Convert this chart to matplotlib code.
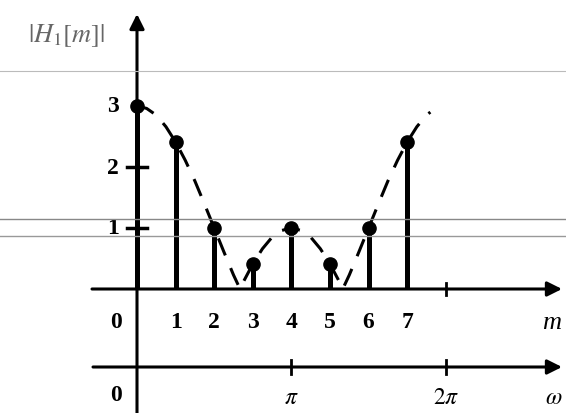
import matplotlib
matplotlib.use("Agg")
import matplotlib.pyplot as plt
from matplotlib.lines import Line2D

# stem values |H1[m]|
m_vals = [0, 1, 2, 3, 4, 5, 6, 7]
h_vals = [3, 2.41, 1, 0.41, 1, 0.41, 1, 2.41]

# dashed envelope
curve_m = [0, 0.25, 0.5, 0.75, 1, 1.25, 1.5, 1.75, 2, 2.25, 2.5, 2.67, 2.75, 3, 3.25,
           3.5, 3.75, 4, 4.25, 4.5, 4.75, 5, 5.25, 5.33, 5.5, 5.75, 6, 6.25, 6.5,
           6.75, 7, 7.25, 7.5, 7.6]
curve_h = [3, 2.96, 2.85, 2.66, 2.41, 2.11, 1.77, 1.39, 1, 0.61, 0.23, 0, 0.11, 0.41, 0.66,
           0.85, 0.96, 1, 0.96, 0.85, 0.66, 0.41, 0.11, 0, 0.23, 0.61, 1, 1.39, 1.77,
           2.11, 2.41, 2.66, 2.85, 2.90]

m_ticks = ["1", "2", "3", "4", "5", "6", "7"]
y_ticks = [1, 2, 3]
w_ticks = [(4, r"$\pi$"), (8, r"$2\pi$")]

plt.rcParams['font.family'] = ['Liberation Serif', 'DejaVu Serif']
plt.rcParams['mathtext.fontset'] = 'stix'

fig = plt.figure(figsize=(5.66, 4.14), dpi=100)
ax = fig.add_axes([0, 0, 1, 1])
# pixel -> data mapping: x = 137 + 38.6*m, y = 290 - 61*v
ax.set_xlim(-137 / 38.6, (566 - 137) / 38.6)
ax.set_ylim((290 - 414) / 61, 290 / 61)
ax.axis('off')

# scan lines
for yp, c, lw in [(72, '#bbbbbb', 0.8), (220, '#888888', 1.0), (237, '#999999', 1.0)]:
    fig.add_artist(Line2D([0, 1], [1 - yp / 414, 1 - yp / 414], color=c, lw=lw))

k = 'black'
w_axis_y = (290 - 368) / 61
arrow = dict(arrowstyle='-|>', lw=2.2, color=k, mutation_scale=22, shrinkA=0, shrinkB=0)
# m axis
ax.annotate('', xy=((562 - 137) / 38.6, 0), xytext=((92 - 137) / 38.6, 0), arrowprops=arrow)
# omega axis
ax.annotate('', xy=((562 - 137) / 38.6, w_axis_y), xytext=((93 - 137) / 38.6, w_axis_y),
            arrowprops=arrow)
# vertical axis
ax.annotate('', xy=(0, (290 - 15) / 61), xytext=(0, (290 - 414) / 61), arrowprops=arrow)

# dashed envelope
ax.plot(curve_m, curve_h, color=k, lw=2.2, dashes=(6, 4.5))

# stems
ax.vlines(m_vals, 0, h_vals, color=k, lw=3.6)
ax.plot(m_vals, h_vals, 'o', color=k, ms=9.5)

# y ticks
for v in y_ticks[:2]:
    ax.plot([-0.25, 0.25], [v, v], color=k, lw=2.5)
for v in y_ticks:
    ax.text(-0.62, v, str(v), ha='center', va='center', fontsize=17, fontweight='bold')

# m ticks
ax.plot([8, 8], [-0.1, 0.1], color=k, lw=2)
ax.text(-0.55, -0.54, "0", ha='center', va='center', fontsize=17, fontweight='bold')
for i, lab in enumerate(m_ticks):
    ax.text(i + 1, -0.54, lab, ha='center', va='center', fontsize=17, fontweight='bold')
ax.text((552 - 137) / 38.6, -0.54, "m", ha='center', va='center', fontsize=19,
        style='italic')

# omega ticks
for pos, lab in w_ticks:
    ax.plot([pos, pos], [w_axis_y - 0.12, w_axis_y + 0.12], color=k, lw=2)
    ax.text(pos, w_axis_y - 0.5, lab, ha='center', va='center', fontsize=17)
ax.text(-0.55, w_axis_y - 0.45, "0", ha='center', va='center', fontsize=17, fontweight='bold')
ax.text((554 - 137) / 38.6, w_axis_y - 0.5, r"$\omega$", ha='center', va='center', fontsize=17)

# y label
ax.text((66 - 137) / 38.6, (290 - 36) / 61, r"$|H_1[m]|$", ha='center', va='center',
        fontsize=19, color='#666666')

fig.savefig("out.png", dpi=100)
